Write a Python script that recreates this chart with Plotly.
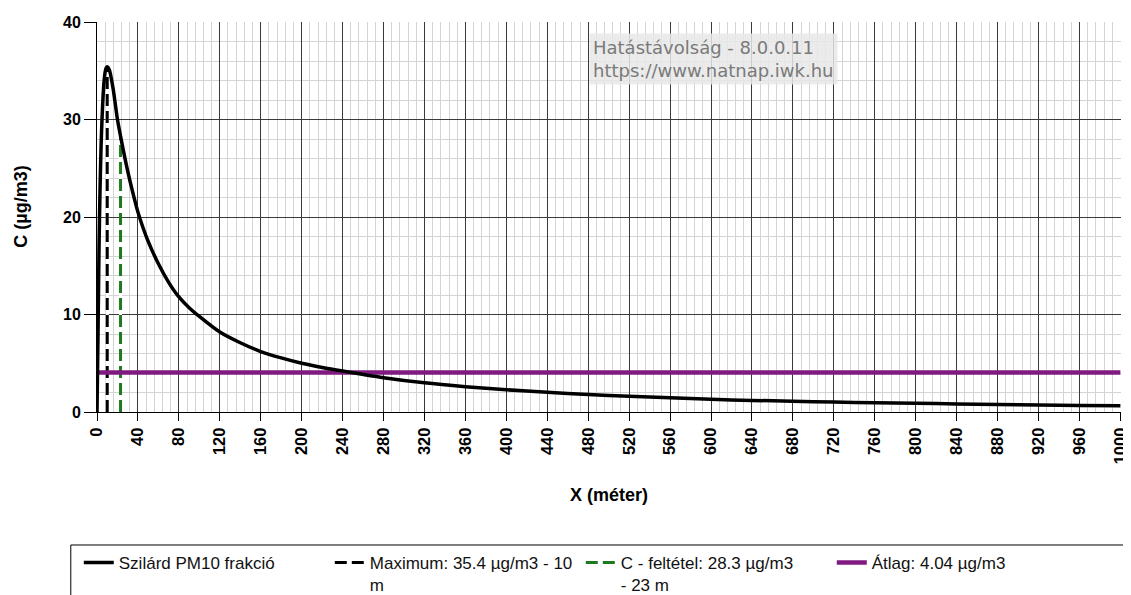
import plotly.graph_objects as go

# ---- data ----
x_m = [0, 1, 2, 3, 4, 5, 6, 7, 8, 9, 10, 12, 14, 16, 18, 20, 23, 26, 30, 35, 40,
       45, 50, 60, 70, 80, 90, 100, 120, 140, 160, 180, 200, 220, 240, 280, 320, 360,
       400, 440, 480, 520, 560, 600, 640, 680, 720, 760, 800, 840, 880, 920, 960, 1000]
c_pm10 = [0, 8, 17, 23, 27.3, 30.3, 32.5, 34.0, 34.9, 35.3, 35.4, 35.1, 34.2, 33.0, 31.5,
          30.0, 28.3, 26.7, 24.7, 22.5, 20.5, 18.9, 17.5, 15.2, 13.3, 11.8, 10.7, 9.8,
          8.2, 7.1, 6.2, 5.55, 5.0, 4.57, 4.2, 3.52, 2.99, 2.6, 2.28, 2.02, 1.8, 1.61,
          1.45, 1.3, 1.19, 1.1, 1.02, 0.95, 0.89, 0.83, 0.77, 0.72, 0.67, 0.63]

max_x, max_c = 10, 35.4
cond_x, cond_c = 23, 28.3
avg_c = 4.04
x_range = [0, 1000.6]
y_range = [0, 40]
x_ticks = list(range(0, 1001, 40))
y_ticks = [0, 10, 20, 30, 40]

names = ["Szilárd PM10 frakció",
         "Maximum: 35.4 µg/m3 - 10<br>m",
         "C - feltétel: 28.3 µg/m3<br>- 23 m",
         "Átlag: 4.04 µg/m3"]

FONT = "Liberation Sans, Arial, sans-serif"

fig = go.Figure()

# white underlays for the dashed verticals
for xv, cv in [(max_x, max_c), (cond_x, cond_c)]:
    fig.add_trace(go.Scatter(x=[xv, xv], y=[0, cv], mode="lines",
                             line=dict(color="white", width=3),
                             showlegend=False, hoverinfo="skip"))

fig.add_trace(go.Scatter(x=[max_x, max_x], y=[0, max_c], mode="lines", name=names[1],
                         line=dict(color="black", width=3, dash="12px,5px"),
                         legendrank=2))
fig.add_trace(go.Scatter(x=[cond_x, cond_x], y=[0, cond_c], mode="lines", name=names[2],
                         line=dict(color="#1f7a1f", width=3, dash="12px,5px"),
                         legendrank=3))
fig.add_trace(go.Scatter(x=[0, 1000], y=[avg_c, avg_c], mode="lines", name=names[3],
                         line=dict(color="#801a80", width=4.5), legendrank=4))
fig.add_trace(go.Scatter(x=x_m, y=c_pm10, mode="lines", name=names[0],
                         line=dict(color="black", width=3.5, shape="spline", smoothing=0.8),
                         legendrank=1))

fig.update_xaxes(
    range=x_range, tickmode="array", tickvals=x_ticks, tickangle=-90,
    ticks="outside", ticklen=8, tickcolor="black", ticklabeloverflow="allow",
    showline=True, linecolor="black", linewidth=1,
    showgrid=True, gridcolor="#3a3a3a", gridwidth=1,
    minor=dict(dtick=8, tick0=0, showgrid=True, gridcolor="#d4d4d4", gridwidth=1),
    zeroline=False,
    tickfont=dict(family=FONT, size=16.5, color="black", weight="bold"),
)
fig.update_yaxes(
    range=y_range, tickmode="array", tickvals=y_ticks,
    ticks="outside", ticklen=12, tickcolor="black",
    showline=True, linecolor="black", linewidth=1,
    showgrid=True, gridcolor="#3a3a3a", gridwidth=1,
    minor=dict(dtick=2, tick0=0, showgrid=True, gridcolor="#d4d4d4", gridwidth=1),
    zeroline=False,
    tickfont=dict(family=FONT, size=16, color="black", weight="bold"),
)

# axis titles
fig.add_annotation(text="C (µg/m3)", xref="paper", yref="paper", x=-0.0745, y=0.5256,
                   xanchor="center", yanchor="middle", textangle=-90, showarrow=False,
                   font=dict(family=FONT, size=18, color="black", weight="bold"))
fig.add_annotation(text="X (méter)", xref="paper", yref="paper", x=0.5, y=-0.2128,
                   xanchor="center", yanchor="middle", showarrow=False,
                   font=dict(family=FONT, size=18, color="black", weight="bold"))

# watermark
fig.add_annotation(
    text="Hatástávolság - 8.0.0.11<br>https://www.natnap.iwk.hu",
    xref="paper", yref="paper", x=0.48, y=0.972, xanchor="left", yanchor="top",
    showarrow=False, align="left",
    font=dict(family="DejaVu Sans, Verdana, sans-serif", size=18, color="#7a7a7a"),
    bgcolor="rgba(232,232,232,0.85)", borderpad=3,
)

# legend frame
fig.add_shape(type="rect", xref="paper", yref="paper",
              x0=-0.0256, x1=1.003, y0=-0.341, y1=-0.52,
              line=dict(color="black", width=1), fillcolor="rgba(0,0,0,0)", layer="above")

fig.update_layout(
    width=1123, height=587,
    margin=dict(l=89, r=10, t=14, b=183, autoexpand=False),
    paper_bgcolor="white", plot_bgcolor="white",
    showlegend=True,
    legend=dict(orientation="h", x=-0.0256, y=-0.341, xanchor="left", yanchor="top",
                entrywidth=198, entrywidthmode="pixels", indentation=8,
                borderwidth=0, bgcolor="rgba(0,0,0,0)",
                font=dict(family=FONT, size=17, color="#111"),
                valign="top", itemwidth=30, traceorder="normal"),
)

fig.write_html("out.html")
